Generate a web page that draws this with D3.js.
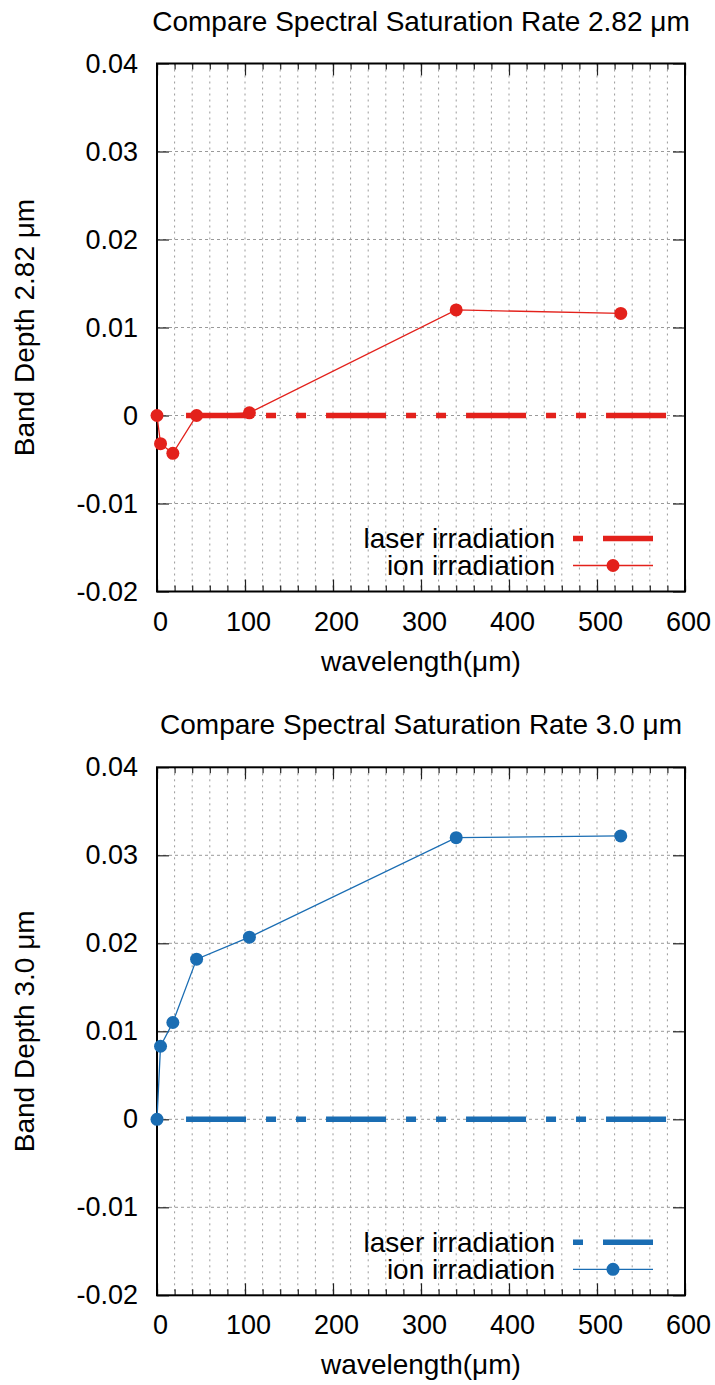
<!DOCTYPE html>
<html>
<head>
<meta charset="utf-8">
<script src="https://cdn.jsdelivr.net/npm/d3@7"></script>
<style>
  body { margin: 0; background: #fff; }
  svg text { font-family: "Liberation Sans", Arial, Helvetica, sans-serif; fill: #000; }
</style>
</head>
<body>
<svg id="chart" width="715" height="1385"></svg>
<script>
// wavelength values (x) shared by both panels
const ionX = [0, 4, 18, 45, 105, 340, 527];
const laserX = [33, 579];

// band depth at 2.82 um
const ion282 = [0, -0.0032, -0.0043, 0, 0.0003, 0.0120, 0.0116];
const laser282 = [0, 0];

// band depth at 3.0 um
const ion30 = [0, 0.0083, 0.0110, 0.0182, 0.0207, 0.0320, 0.0322];
const laser30 = [0, 0];

const xTicks = [0, 100, 200, 300, 400, 500, 600];
const xMinorTicks = d3.range(0, 601, 20);
const yTicks = [-0.02, -0.01, 0, 0.01, 0.02, 0.03, 0.04];
const yTickLabels = ["-0.02", "-0.01", "0", "0.01", "0.02", "0.03", "0.04"];

const svg = d3.select("#chart");
const W = 715;
const margin = { left: 157, right: 30 };
const plotH = 528;

function drawPanel(top, title, yTitle, color, ionY, laserY) {
  const g = svg.append("g");
  const x = d3.scaleLinear().domain([0, 600]).range([margin.left, W - margin.right]);
  const y = d3.scaleLinear().domain([-0.02, 0.04]).range([top + plotH, top]);
  const [x0, x1] = x.range();
  const [y1, y0] = y.range();

  // grid
  g.append("g").selectAll("line").data(xMinorTicks.filter(d => d > 0 && d < 600)).join("line")
    .attr("x1", d => x(d)).attr("x2", d => x(d))
    .attr("y1", y0).attr("y2", y1)
    .attr("stroke", "#9a9a9a").attr("stroke-width", 1).attr("stroke-dasharray", "2,4");
  g.append("g").selectAll("line").data(yTicks.filter(d => d > -0.02 && d < 0.04)).join("line")
    .attr("x1", x0).attr("x2", x1)
    .attr("y1", d => y(d)).attr("y2", d => y(d))
    .attr("stroke", "#9a9a9a").attr("stroke-width", 1).attr("stroke-dasharray", "3,3");

  // axes: inward ticks on all four sides
  const fmtY = d => yTickLabels[yTicks.indexOf(d)];
  const bottom = g.append("g").attr("transform", `translate(0,${y1})`)
    .call(d3.axisBottom(x).tickValues(xTicks).tickSize(-12).tickPadding(20).tickFormat(d3.format("d")));
  g.append("g").attr("transform", `translate(0,${y1})`)
    .call(d3.axisBottom(x).tickValues(xMinorTicks).tickSize(-6).tickFormat(""));
  g.append("g").attr("transform", `translate(0,${y0})`)
    .call(d3.axisTop(x).tickValues(xTicks).tickSize(-12).tickFormat(""));
  g.append("g").attr("transform", `translate(0,${y0})`)
    .call(d3.axisTop(x).tickValues(xMinorTicks).tickSize(-6).tickFormat(""));
  const left = g.append("g").attr("transform", `translate(${x0},0)`)
    .call(d3.axisLeft(y).tickValues(yTicks).tickSize(-12).tickPadding(19).tickFormat(fmtY));
  g.append("g").attr("transform", `translate(${x1},0)`)
    .call(d3.axisRight(y).tickValues(yTicks).tickSize(-12).tickFormat(""));
  g.selectAll(".domain").remove();
  g.selectAll(".tick line").attr("stroke", "#222").attr("stroke-width", 1.2);
  bottom.selectAll("text").attr("font-size", 27).attr("dx", 3);
  left.selectAll("text").attr("font-size", 27);
  g.selectAll(".tick text").attr("fill", "#000").style("font-family", "Liberation Sans, Arial, sans-serif");

  // border
  g.append("rect").attr("x", x0).attr("y", y0).attr("width", x1 - x0).attr("height", y1 - y0)
    .attr("fill", "none").attr("stroke", "#000").attr("stroke-width", 2);

  // laser irradiation
  const laserData = laserX.map((d, i) => ({ x: d, y: laserY[i] }));
  g.append("path").datum(laserData)
    .attr("d", d3.line().x(d => x(d.x)).y(d => y(d.y)))
    .attr("fill", "none").attr("stroke", color).attr("stroke-width", 5.5)
    .attr("stroke-dasharray", "60,20,10,20,10,20");

  // ion irradiation
  const ionData = ionX.map((d, i) => ({ x: d, y: ionY[i] }));
  g.append("path").datum(ionData)
    .attr("d", d3.line().x(d => x(d.x)).y(d => y(d.y)))
    .attr("fill", "none").attr("stroke", color).attr("stroke-width", 1.3);
  g.append("g").selectAll("circle").data(ionData).join("circle")
    .attr("cx", d => x(d.x)).attr("cy", d => y(d.y)).attr("r", 6.5)
    .attr("fill", color);

  // legend
  const lx = x1 - 112, lw = 80;
  const ly1 = y1 - 53, ly2 = y1 - 26;
  g.append("text").attr("x", lx - 18).attr("y", ly1).attr("dy", "0.35em")
    .attr("text-anchor", "end").attr("font-size", 28).text("laser irradiation");
  g.append("line").attr("x1", lx).attr("x2", lx + lw).attr("y1", ly1).attr("y2", ly1)
    .attr("stroke", color).attr("stroke-width", 5.5)
    .attr("stroke-dasharray", "60,20,10,20,10,20").attr("stroke-dashoffset", 110);
  g.append("text").attr("x", lx - 18).attr("y", ly2).attr("dy", "0.35em")
    .attr("text-anchor", "end").attr("font-size", 28).text("ion irradiation");
  g.append("line").attr("x1", lx).attr("x2", lx + lw).attr("y1", ly2).attr("y2", ly2)
    .attr("stroke", color).attr("stroke-width", 1.3);
  g.append("circle").attr("cx", lx + lw / 2).attr("cy", ly2).attr("r", 6.5).attr("fill", color);

  // titles
  g.append("text").attr("x", (x0 + x1) / 2).attr("y", y0 - 33)
    .attr("text-anchor", "middle").attr("font-size", 28).text(title);
  g.append("text").attr("x", (x0 + x1) / 2).attr("y", y1 + 79)
    .attr("text-anchor", "middle").attr("font-size", 28).text("wavelength(μm)");
  g.append("text").attr("transform", `translate(34,${(y0 + y1) / 2}) rotate(-90)`)
    .attr("text-anchor", "middle").attr("font-size", 28).text(yTitle);
}

drawPanel(63.5, "Compare Spectral Saturation Rate 2.82 μm", "Band Depth 2.82 μm", "#e3211b", ion282, laser282);
drawPanel(767.3, "Compare Spectral Saturation Rate 3.0 μm", "Band Depth 3.0 μm", "#1a6db3", ion30, laser30);
</script>
</body>
</html>
